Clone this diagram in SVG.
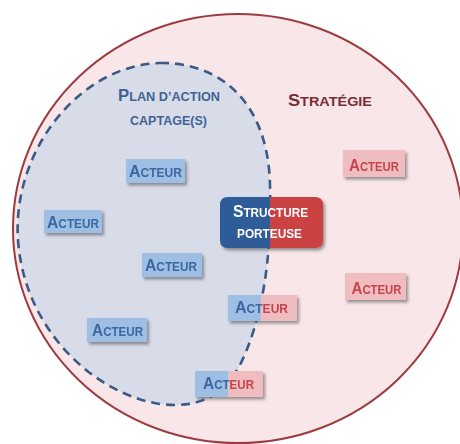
<svg xmlns="http://www.w3.org/2000/svg" width="460" height="444" viewBox="0 0 460 444">
  <style>
    text { font-family: "Liberation Sans", Arial, sans-serif; font-weight: 700; }
    .sm { font-size: 12px; }
    .bg { font-size: 16px; }
    .title { font-size: 12.5px; }
    .titleBig { font-size: 16.5px; }
    .bbox { fill: #9ebfe3; }
    .pbox { fill: #efbcc0; }
    .btxt { fill: #3a67a0; }
    .ptxt { fill: #c4454d; }
  </style>
  <defs>
    <filter id="sh" x="-20%" y="-30%" width="150%" height="180%">
      <feDropShadow dx="2" dy="2.5" stdDeviation="1.4" flood-color="#4a4a4a" flood-opacity="0.55"/>
    </filter>
  </defs>
  <rect width="460" height="444" fill="#ffffff"/>

  <g id="strategie">
    <ellipse cx="238" cy="228.5" rx="225" ry="214.5" fill="#f8e6e8" stroke="#9c3b40" stroke-width="2"/>
    <text x="330" y="106" text-anchor="middle" fill="#7b2d36" textLength="84" lengthAdjust="spacingAndGlyphs"><tspan style="font-size:17px">S</tspan><tspan style="font-size:13.5px">TRATÉGIE</tspan></text>
  </g>

  <g id="plan-action">
    <path d="M160,63 C218,62 268,100 270,185 C272,260 262,320 240,365 C225,392 205,405 175,405 C110,405 25,340 18,240 C12,150 80,65 160,63 Z" fill="#d8dce9" stroke="#3b5b85" stroke-width="2.6" stroke-dasharray="9,6"/>
    <text x="169" y="101" text-anchor="middle" fill="#3f6395" textLength="102" lengthAdjust="spacingAndGlyphs"><tspan class="titleBig">P</tspan><tspan class="title">LAN D’ACTION</tspan></text>
    <text x="168.5" y="125" text-anchor="middle" fill="#3f6395" class="title" textLength="77" lengthAdjust="spacingAndGlyphs">CAPTAGE(S)</text>
  </g>

  <g id="connectors"></g>

  <g id="acteur-1" filter="url(#sh)">
    <rect class="bbox" x="126" y="159" width="59" height="24"/>
    <text class="btxt" x="155.5" y="177" text-anchor="middle" textLength="53" lengthAdjust="spacingAndGlyphs"><tspan class="bg">A</tspan><tspan class="sm">CTEUR</tspan></text>
  </g>
  <g id="acteur-2" filter="url(#sh)">
    <rect class="bbox" x="44" y="210" width="58" height="23"/>
    <text class="btxt" x="73" y="228" text-anchor="middle" textLength="52" lengthAdjust="spacingAndGlyphs"><tspan class="bg">A</tspan><tspan class="sm">CTEUR</tspan></text>
  </g>
  <g id="acteur-3" filter="url(#sh)">
    <rect class="bbox" x="142" y="253" width="60" height="24"/>
    <text class="btxt" x="171" y="271" text-anchor="middle" textLength="52" lengthAdjust="spacingAndGlyphs"><tspan class="bg">A</tspan><tspan class="sm">CTEUR</tspan></text>
  </g>
  <g id="acteur-4" filter="url(#sh)">
    <rect class="bbox" x="87" y="318" width="60" height="24"/>
    <text class="btxt" x="117.5" y="336" text-anchor="middle" textLength="51" lengthAdjust="spacingAndGlyphs"><tspan class="bg">A</tspan><tspan class="sm">CTEUR</tspan></text>
  </g>
  <g id="acteur-5" filter="url(#sh)">
    <rect class="bbox" x="228" y="295" width="33" height="26"/>
    <rect class="pbox" x="261" y="295" width="36" height="26"/>
    <text x="261.5" y="313" text-anchor="middle" textLength="53" lengthAdjust="spacingAndGlyphs"><tspan class="bg btxt">A</tspan><tspan class="sm btxt">CT</tspan><tspan class="sm ptxt">EUR</tspan></text>
  </g>
  <g id="acteur-6" filter="url(#sh)">
    <rect class="bbox" x="195" y="371" width="33" height="26"/>
    <rect class="pbox" x="228" y="371" width="35" height="26"/>
    <text x="228.5" y="389" text-anchor="middle" textLength="51" lengthAdjust="spacingAndGlyphs"><tspan class="bg btxt">A</tspan><tspan class="sm btxt">CT</tspan><tspan class="sm ptxt">EUR</tspan></text>
  </g>
  <g id="acteur-7" filter="url(#sh)">
    <rect class="pbox" x="343" y="150" width="62" height="27"/>
    <text class="ptxt" x="374" y="171" text-anchor="middle" textLength="50" lengthAdjust="spacingAndGlyphs"><tspan class="bg">A</tspan><tspan class="sm">CTEUR</tspan></text>
  </g>
  <g id="acteur-8" filter="url(#sh)">
    <rect class="pbox" x="345" y="273" width="61" height="27"/>
    <text class="ptxt" x="376.5" y="294" text-anchor="middle" textLength="50" lengthAdjust="spacingAndGlyphs"><tspan class="bg">A</tspan><tspan class="sm">CTEUR</tspan></text>
  </g>

  <g id="structure-porteuse" filter="url(#sh)">
    <path d="M270,197 H228 Q220,197 220,205 V240 Q220,248 228,248 H270 Z" fill="#2e5c98"/>
    <path d="M270,197 H315 Q323,197 323,205 V240 Q323,248 315,248 H270 Z" fill="#cb4343"/>
    <text x="270.5" y="217" text-anchor="middle" fill="#ffffff" textLength="75" lengthAdjust="spacingAndGlyphs"><tspan style="font-size:16px">S</tspan><tspan style="font-size:12px">TRUCTURE</tspan></text>
    <text x="269.5" y="238" text-anchor="middle" fill="#ffffff" style="font-size:12px" textLength="65" lengthAdjust="spacingAndGlyphs">PORTEUSE</text>
  </g>
</svg>
